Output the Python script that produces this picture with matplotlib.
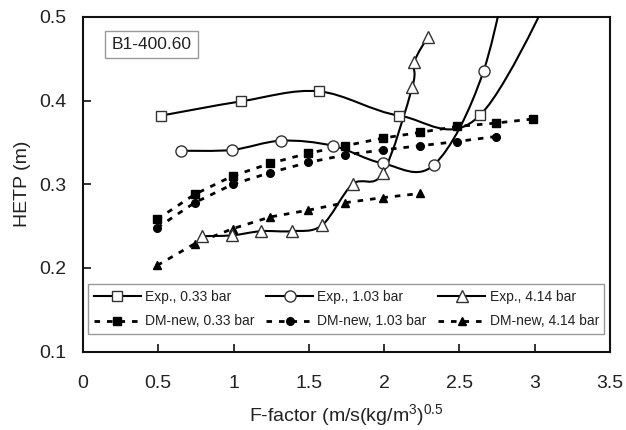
import numpy as np
import matplotlib
matplotlib.use('Agg')
import matplotlib.pyplot as plt
from matplotlib.path import Path
from matplotlib.patches import PathPatch
from matplotlib.lines import Line2D

plt.rcParams['font.family'] = ['Liberation Sans', 'DejaVu Sans']
plt.rcParams['mathtext.fontset'] = 'custom'
plt.rcParams['mathtext.rm'] = 'Liberation Sans'
plt.rcParams['mathtext.default'] = 'regular'

# experimental data (last point of 0.33 and 1.03 bar lies above the plot)
exp033_x = [0.52, 1.05, 1.565, 2.10, 2.64, 3.30]
exp033_y = [0.382, 0.399, 0.411, 0.382, 0.383, 0.60]
exp103_x = [0.654, 0.989, 1.316, 1.658, 1.99, 2.33, 2.66, 2.89]
exp103_y = [0.340, 0.341, 0.352, 0.346, 0.325, 0.323, 0.435, 0.62]
exp414_x = [0.79, 0.989, 1.185, 1.386, 1.587, 1.79, 1.99, 2.187, 2.20, 2.29]
exp414_y = [0.238, 0.239, 0.244, 0.244, 0.251, 0.300, 0.313, 0.416, 0.446, 0.476]

# model (DM-new)
dm_x = [0.492, 0.742, 0.995, 1.245, 1.495, 1.742, 1.99, 2.24, 2.485, 2.74, 2.99]
dm033_y = [0.258, 0.288, 0.310, 0.325, 0.337, 0.346, 0.355, 0.362, 0.369, 0.373, 0.378]
dm103_y = [0.248, 0.278, 0.300, 0.314, 0.326, 0.335, 0.341, 0.346, 0.351, 0.357]
dm414_y = [0.203, 0.229, 0.247, 0.261, 0.269, 0.278, 0.284, 0.289]

xticks = [0, 0.5, 1, 1.5, 2, 2.5, 3, 3.5]
xticklabels = ['0', '0.5', '1', '1.5', '2', '2.5', '3', '3.5']
yticks = [0.1, 0.2, 0.3, 0.4, 0.5]
yticklabels = ['0.1', '0.2', '0.3', '0.4', '0.5']


def smooth_path(x, y):
    # excel-like smoothed line: catmull-rom as cubic bezier
    p = np.column_stack([x, y])
    n = len(p)
    verts = [p[0]]
    codes = [Path.MOVETO]
    for i in range(n - 1):
        p0 = p[max(i - 1, 0)]
        p1 = p[i]
        p2 = p[i + 1]
        p3 = p[min(i + 2, n - 1)]
        verts += [p1 + (p2 - p0) / 6, p2 - (p3 - p1) / 6, p2]
        codes += [Path.CURVE4] * 3
    return Path(verts, codes)


fig = plt.figure(figsize=(6.26, 4.30), dpi=100)
ax = fig.add_axes([0.1326, 0.182, 0.8418, 0.779])

exp_sets = [(exp033_x, exp033_y, 's', 7, 'Exp., 0.33 bar'),
            (exp103_x, exp103_y, 'o', 8, 'Exp., 1.03 bar'),
            (exp414_x, exp414_y, '^', 9, 'Exp., 4.14 bar')]
dm_sets = [(dm033_y, 's', 5.5, 'DM-new, 0.33 bar'),
           (dm103_y, 'o', 5.5, 'DM-new, 1.03 bar'),
           (dm414_y, '^', 6, 'DM-new, 4.14 bar')]

handles = []
for (xs, ys, m, ms, lab), (dy, dm, dms, dlab) in zip(exp_sets, dm_sets):
    ax.add_patch(PathPatch(smooth_path(xs, ys), fill=False, edgecolor='k', lw=1.5, zorder=3))
    ax.plot(xs, ys, ls='none', marker=m, ms=ms, mfc='white', mec='#333333', mew=1, zorder=5)
    ax.plot(dm_x[:len(dy)], dy, color='k', lw=2, ls=(0, (2, 2.5)), marker=dm, ms=dms, zorder=2)
    handles.append(Line2D([], [], color='k', lw=1.5, marker=m, ms=ms, mfc='white', mec='#333333', mew=1, label=lab))
    handles.append(Line2D([], [], color='k', lw=2, ls=(0, (2, 2.5)), marker=dm, ms=dms, label=dlab))

ax.set_xlim(0, 3.5)
ax.set_ylim(0.1, 0.5)
ax.set_xticks(xticks)
ax.set_xticklabels(xticklabels)
ax.set_yticks(yticks)
ax.set_yticklabels(yticklabels)
ax.tick_params(direction='in', length=6, width=1.3, labelsize=14, colors='#222222')
ax.tick_params(axis='x', pad=17)
ax.tick_params(axis='y', pad=12)
for s in ax.spines.values():
    s.set_linewidth(1.5)
    s.set_color('#111111')

ax.set_xlabel('F-factor (m/s(kg/m$^3$)$^{0.5}$', fontsize=14, color='#222222', labelpad=7)
ax.set_ylabel('HETP (m)', fontsize=14, color='#222222', labelpad=6)

ax.text(0.130, 0.916, 'B1-400.60', transform=ax.transAxes, ha='center', va='center',
        fontsize=12.5, color='#222222',
        bbox=dict(boxstyle='square,pad=0.35', fc='white', ec='#999999', lw=1))

leg = ax.legend(handles=handles, ncol=3, loc='lower left', mode='expand',
                bbox_to_anchor=(0.0095, 0.053, 0.98, 0.158), fontsize=10,
                handlelength=3.4, handletextpad=0.3, columnspacing=0.8,
                labelspacing=0.75, borderaxespad=0, borderpad=0.4,
                fancybox=False, framealpha=1, edgecolor='#999999', numpoints=1)
leg.get_frame().set_linewidth(1)
for t in leg.get_texts():
    t.set_color('#222222')

fig.savefig('out.png', dpi=100)
